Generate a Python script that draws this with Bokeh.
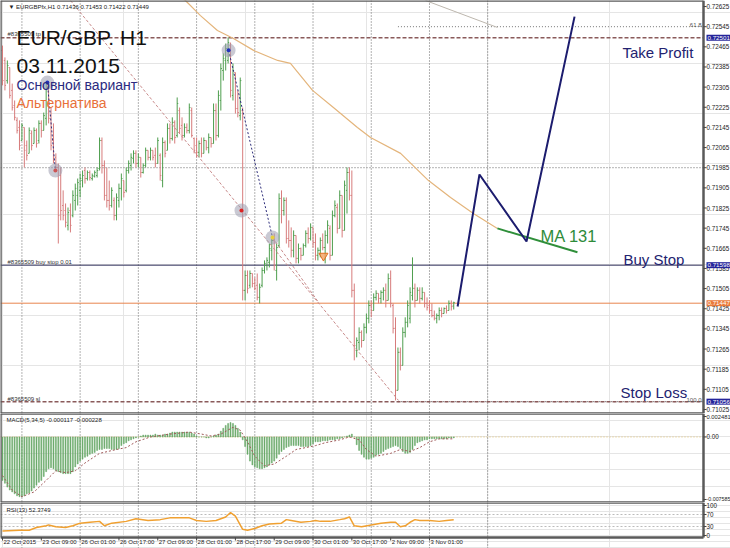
import numpy as np
from bokeh.plotting import figure
from bokeh.models import Range1d, ColumnDataSource, Span, Label
from bokeh.layouts import column
from bokeh.embed import file_html
from bokeh.resources import INLINE

FONT = "Liberation Sans"

# ---------------- data (EUR/GBP H1, bar 0 = 22 Oct 2015 17:00) ----------------
opens = [0.72451,0.72411,0.72331,0.72383,0.72292,0.72232,0.72173,0.72145,0.72093,0.72145,
0.72073,0.72042,0.72121,0.72081,0.72133,0.72093,0.72161,0.72133,0.72181,0.72300,
0.72192,0.72093,0.72026,0.71986,0.71954,0.71835,0.71815,0.71756,0.71815,0.71795,
0.71855,0.71875,0.71895,0.71934,0.71974,0.71942,0.71966,0.71942,0.71950,0.71954,
0.71982,0.72093,0.71994,0.71875,0.71855,0.71835,0.71855,0.71795,0.71855,0.71903,
0.71934,0.71895,0.71974,0.71994,0.72022,0.72042,0.72002,0.72026,0.71966,0.71994,
0.72054,0.72026,0.72054,0.72034,0.72002,0.72034,0.71934,0.72085,0.72054,0.72141,
0.72101,0.72165,0.72113,0.72212,0.72153,0.72113,0.72145,0.72133,0.72212,0.72101,
0.72073,0.72046,0.72081,0.72042,0.72093,0.72065,0.72105,0.72081,0.72212,0.72113,
0.72252,0.72371,0.72411,0.72411,0.72470,0.72272,0.72363,0.72220,0.72192,0.72212,
0.71498,0.71557,0.71518,0.71565,0.71525,0.71518,0.71470,0.71518,0.71577,0.71597,
0.71609,0.71657,0.71696,0.71577,0.71676,0.71863,0.71815,0.71855,0.71704,0.71696,
0.71657,0.71716,0.71625,0.71664,0.71637,0.71676,0.71724,0.71704,0.71748,0.71688,
0.71637,0.71657,0.71696,0.71668,0.71716,0.71744,0.71637,0.71795,0.71827,0.71744,
0.71875,0.71736,0.71895,0.71966,0.71875,0.71498,0.71260,0.71291,0.71331,0.71299,
0.71351,0.71387,0.71438,0.71418,0.71470,0.71486,0.71466,0.71490,0.71498,0.71458,
0.71545,0.71438,0.71347,0.71101,0.71252,0.71200,0.71331,0.71371,0.71387,0.71478,
0.71506,0.71458,0.71498,0.71466,0.71490,0.71446,0.71438,0.71418,0.71398,0.71387,
0.71398,0.71418,0.71406,0.71426,0.71418,0.71446,0.71436]
highs = [0.72470,0.72423,0.72411,0.72383,0.72319,0.72252,0.72185,0.72173,0.72161,0.72145,
0.72093,0.72145,0.72133,0.72145,0.72141,0.72173,0.72173,0.72204,0.72319,0.72312,
0.72224,0.72161,0.72042,0.72002,0.71986,0.71895,0.71843,0.71827,0.71843,0.71895,
0.71922,0.71942,0.71962,0.71974,0.71986,0.71974,0.71974,0.71962,0.71974,0.71986,
0.72105,0.72105,0.72014,0.71986,0.71934,0.71907,0.71867,0.71883,0.71922,0.71962,
0.71934,0.71986,0.72014,0.72042,0.72054,0.72054,0.72042,0.72026,0.72002,0.72065,
0.72054,0.72065,0.72054,0.72065,0.72105,0.72042,0.72105,0.72093,0.72161,0.72161,
0.72185,0.72173,0.72264,0.72224,0.72185,0.72161,0.72161,0.72240,0.72224,0.72105,
0.72105,0.72093,0.72105,0.72105,0.72093,0.72121,0.72105,0.72240,0.72240,0.72292,
0.72399,0.72439,0.72478,0.72502,0.72482,0.72399,0.72363,0.72292,0.72343,0.72224,
0.71577,0.71577,0.71577,0.71565,0.71549,0.71565,0.71525,0.71589,0.71617,0.71629,
0.71684,0.71708,0.71724,0.71684,0.71883,0.71895,0.71867,0.71867,0.71776,0.71748,
0.71736,0.71716,0.71684,0.71668,0.71684,0.71736,0.71748,0.71764,0.71748,0.71724,
0.71668,0.71708,0.71724,0.71736,0.71776,0.71756,0.71815,0.71855,0.71843,0.71895,
0.71875,0.71934,0.71986,0.71986,0.71974,0.71525,0.71311,0.71351,0.71339,0.71367,
0.71406,0.71458,0.71458,0.71486,0.71498,0.71486,0.71498,0.71510,0.71525,0.71565,
0.71577,0.71446,0.71391,0.71271,0.71271,0.71351,0.71391,0.71458,0.71510,0.71629,
0.71525,0.71510,0.71510,0.71510,0.71490,0.71470,0.71458,0.71446,0.71418,0.71406,
0.71430,0.71430,0.71430,0.71438,0.71458,0.71458,0.71453]
lows = [0.72312,0.72292,0.72319,0.72260,0.72212,0.72173,0.72121,0.72054,0.72093,0.71986,
0.72014,0.72042,0.72054,0.72081,0.72065,0.72081,0.72105,0.72133,0.72153,0.72161,
0.72054,0.72002,0.71974,0.71684,0.71776,0.71776,0.71748,0.71736,0.71728,0.71788,
0.71815,0.71835,0.71867,0.71907,0.71922,0.71934,0.71934,0.71934,0.71946,0.71946,
0.71974,0.71962,0.71855,0.71827,0.71815,0.71827,0.71776,0.71776,0.71827,0.71855,
0.71867,0.71887,0.71962,0.71974,0.72002,0.71986,0.71986,0.71946,0.71962,0.71986,
0.72014,0.72014,0.72014,0.71986,0.72002,0.71934,0.71907,0.72026,0.72054,0.72081,
0.72093,0.72081,0.72105,0.72121,0.72093,0.72105,0.72121,0.72121,0.72105,0.72042,
0.72026,0.72026,0.72026,0.72042,0.72054,0.72042,0.72065,0.72081,0.72093,0.72105,
0.72212,0.72331,0.72371,0.72399,0.72264,0.72252,0.72200,0.72185,0.72173,0.71458,
0.71458,0.71486,0.71506,0.71510,0.71498,0.71458,0.71446,0.71510,0.71565,0.71577,
0.71589,0.71617,0.71577,0.71537,0.71668,0.71764,0.71795,0.71684,0.71668,0.71629,
0.71629,0.71605,0.71605,0.71617,0.71637,0.71668,0.71684,0.71696,0.71668,0.71617,
0.71617,0.71629,0.71657,0.71605,0.71684,0.71617,0.71637,0.71788,0.71724,0.71744,
0.71708,0.71736,0.71803,0.71855,0.71470,0.71220,0.71232,0.71260,0.71271,0.71299,
0.71327,0.71367,0.71391,0.71418,0.71458,0.71446,0.71446,0.71458,0.71430,0.71458,
0.71430,0.71327,0.71061,0.71101,0.71180,0.71200,0.71311,0.71351,0.71367,0.71458,
0.71430,0.71458,0.71446,0.71458,0.71430,0.71418,0.71406,0.71391,0.71379,0.71367,
0.71379,0.71391,0.71406,0.71406,0.71418,0.71418,0.71422]
closes = [0.72331,0.72312,0.72391,0.72272,0.72224,0.72185,0.72133,0.72073,0.72153,0.72054,
0.72034,0.72133,0.72073,0.72133,0.72081,0.72161,0.72133,0.72192,0.72300,0.72181,
0.72073,0.72014,0.71986,0.71795,0.71815,0.71795,0.71768,0.71807,0.71756,0.71875,
0.71903,0.71926,0.71942,0.71954,0.71942,0.71966,0.71946,0.71954,0.71966,0.71974,
0.72093,0.71994,0.71875,0.71855,0.71835,0.71895,0.71795,0.71867,0.71903,0.71942,
0.71887,0.71974,0.72002,0.72026,0.72042,0.72002,0.72026,0.71966,0.71994,0.72054,
0.72026,0.72054,0.72026,0.72002,0.72093,0.71954,0.72085,0.72042,0.72141,0.72101,
0.72165,0.72105,0.72240,0.72141,0.72113,0.72145,0.72133,0.72224,0.72113,0.72054,
0.72046,0.72081,0.72042,0.72093,0.72065,0.72105,0.72081,0.72212,0.72113,0.72272,
0.72379,0.72419,0.72458,0.72482,0.72292,0.72371,0.72220,0.72204,0.72331,0.71498,
0.71557,0.71506,0.71565,0.71525,0.71506,0.71470,0.71510,0.71577,0.71605,0.71617,
0.71664,0.71696,0.71597,0.71668,0.71863,0.71815,0.71855,0.71704,0.71696,0.71657,
0.71716,0.71625,0.71664,0.71637,0.71676,0.71724,0.71704,0.71748,0.71688,0.71637,
0.71657,0.71696,0.71668,0.71716,0.71756,0.71637,0.71795,0.71835,0.71744,0.71875,
0.71736,0.71915,0.71966,0.71875,0.71498,0.71279,0.71299,0.71331,0.71299,0.71351,
0.71387,0.71438,0.71418,0.71470,0.71486,0.71466,0.71490,0.71498,0.71458,0.71545,
0.71446,0.71347,0.71101,0.71252,0.71200,0.71331,0.71371,0.71438,0.71490,0.71506,
0.71458,0.71498,0.71466,0.71490,0.71446,0.71430,0.71418,0.71398,0.71387,0.71398,
0.71418,0.71406,0.71426,0.71418,0.71446,0.71434,0.71449]

macd_hist = [-0.00527,-0.00562,-0.00608,-0.00644,-0.00667,-0.00690,-0.00714,-0.00725,-0.00725,-0.00714,
-0.00690,-0.00679,-0.00655,-0.00620,-0.00585,-0.00550,-0.00527,-0.00480,-0.00421,-0.00386,
-0.00374,-0.00386,-0.00410,-0.00421,-0.00433,-0.00445,-0.00445,-0.00445,-0.00445,-0.00421,
-0.00363,-0.00328,-0.00293,-0.00269,-0.00246,-0.00234,-0.00211,-0.00199,-0.00187,-0.00164,
-0.00152,-0.00152,-0.00140,-0.00140,-0.00140,-0.00152,-0.00152,-0.00152,-0.00140,-0.00105,
-0.00082,-0.00070,-0.00047,-0.00035,-0.00023,-0.00012,0.0,0.00012,0.00023,0.00023,
0.00023,0.00023,0.00023,0.00035,0.00023,0.00023,0.00023,0.00035,0.00035,0.00047,
0.00059,0.00059,0.00059,0.00059,0.00059,0.00059,0.00059,0.00059,0.00047,0.00035,
0.00012,0.0,0.0,0.0,-0.00012,-0.00012,0.0,0.00012,0.00023,0.00035,
0.00070,0.00105,0.00140,0.00164,0.00176,0.00164,0.00140,0.00105,0.00059,-0.00035,
-0.00117,-0.00211,-0.00293,-0.00339,-0.00363,-0.00374,-0.00386,-0.00386,-0.00374,-0.00363,
-0.00339,-0.00316,-0.00293,-0.00257,-0.00211,-0.00176,-0.00152,-0.00129,-0.00117,-0.00105,
-0.00105,-0.00105,-0.00105,-0.00117,-0.00117,-0.00117,-0.00117,-0.00105,-0.00082,-0.00059,
-0.00059,-0.00059,-0.00047,-0.00047,-0.00047,-0.00035,-0.00035,-0.00035,-0.00023,-0.00023,
-0.00012,0.0,0.00012,0.00023,0.00035,0.0,-0.00094,-0.00164,-0.00211,-0.00246,
-0.00269,-0.00269,-0.00257,-0.00246,-0.00222,-0.00211,-0.00199,-0.00176,-0.00152,-0.00140,
-0.00129,-0.00117,-0.00105,-0.00117,-0.00140,-0.00176,-0.00199,-0.00199,-0.00187,-0.00152,
-0.00105,-0.00070,-0.00059,-0.00047,-0.00035,-0.00035,-0.00023,-0.00023,-0.00023,-0.00023,
-0.00023,-0.00023,-0.00023,-0.00023,-0.00012,-0.00012,-0.000117]

sig_bars = [0,4,8,13,18,22,26,30,34,40,47,51,55,61,69,77,82,86,90,95,
            98,101,104,108,112,117,121,125,129,133,139,143,147,150,154,160,164,168,172,176,180,186]
sig_vals = [-0.00468,-0.00644,-0.00725,-0.00667,-0.00527,-0.00410,-0.00433,-0.00410,-0.00316,-0.00199,
            -0.00152,-0.00129,-0.00059,0.0,0.00035,0.00059,0.00035,0.00012,0.00035,0.00117,
            0.00082,-0.00059,-0.00234,-0.00351,-0.00328,-0.00234,-0.00152,-0.00129,-0.00105,-0.00070,
            -0.00035,0.0,-0.00035,-0.00152,-0.00234,-0.00199,-0.00152,-0.00176,-0.00129,-0.00059,
            -0.00023,-0.000228]

rsi_bars = [0,7,11,14,18,19,22,26,29,32,36,40,42,45,51,55,60,65,69,73,
            77,80,84,88,92,94,96,99,101,104,107,110,115,117,119,123,127,129,131,135,
            139,141,143,145,148,152,156,160,162,164,166,168,170,172,176,180,183,186]
rsi_vals = [14.7,17.6,17.6,26.5,32.4,35.3,29.4,26.5,32.4,41.2,44.1,47.1,32.4,41.2,47.1,55.9,50,52.9,58.8,58.8,
            58.8,50,47.1,50,61.8,76.5,64.7,20.6,17.6,23.5,32.4,38.2,41.2,52.9,50,44.1,47.1,50,47.1,47.1,
            52.9,55.9,61.8,32.4,29.4,35.3,41.2,44.1,44.1,29.4,32.4,44.1,52.9,50,50,47.1,50,52.37]

ma_bars = [69.2,75.4,81.6,88.6,95.2,103.5,113.4,118.7,127.8,136.4,146.3,151.7,164.1,175.6,184.7,194.1,204]
ma_vals = [0.72681,0.72649,0.72589,0.72530,0.72498,0.72451,0.72411,0.72399,0.72292,0.72224,
           0.72145,0.72105,0.72042,0.71934,0.71867,0.71803,0.71744]
ma_ext_bars = [204, 237]
ma_ext_vals = [0.71744, 0.71649]
fc_bars = [187.6, 196.6, 216, 235.8]
fc_vals = [0.71434, 0.71958, 0.71692, 0.72585]
wave1_bars = [18.5, 21.8]
wave1_vals = [0.72323, 0.71974]
wave2_bars = [93.2, 111.3]
wave2_vals = [0.72451, 0.71708]
alt_bars = [111.3, 130.3]
alt_vals = [0.71708, 0.71450]
trend_bars = [28.0, 163.2]
trend_vals = [0.72649, 0.71061]
fibbase_bars = [174.4, 204]
fibbase_vals = [0.72649, 0.72542]
mark_bars = [18.5, 21.8, 93.2, 98.5, 111.3]
mark_vals = [0.72323, 0.71974, 0.72451, 0.71815, 0.71708]
mark_cols = ["#2233bb", "#cc5555", "#2233bb", "#dd2222", "#e8d040"]
arrow_bar = [132.3]
arrow_val = [0.71635]

tp_level, bs_level, bid_level, sl_level = 0.72501, 0.71598, 0.71447, 0.71056
fib_levels = [0.72545, 0.71056]
fib_names = ["61.8", "100.0"]
fib_start = 163
grid_price = 0.71985
grid_bars = [8, 32, 56, 80, 104, 128, 152, 176, 200]
price_ticks = [round(0.71025 + 0.0008 * k, 5) for k in range(21)]
macd_ticks = [0.002481, 0.0, -0.007585]
macd_tick_text = ["0.002481", "0.00", "-0.007585"]
rsi_ticks = [100, 70, 30, 0]
time_bars = [0, 16, 32, 48, 64, 80, 96, 112, 128, 144, 160, 176]
time_texts = ["22 Oct 2015", "23 Oct 09:00", "26 Oct 01:00", "26 Oct 17:00", "27 Oct 09:00",
              "28 Oct 01:00", "28 Oct 17:00", "29 Oct 09:00", "30 Oct 01:00", "30 Oct 17:00",
              "2 Nov 09:00", "3 Nov 01:00"]

# ---------------- layout ----------------
FW = 730
PXB = 2.426                  # pixels per hourly bar
X0 = -2.0 / PXB
X1 = X0 + FW / PXB
EDGE = (703 - 2.0) / PXB     # right edge of the chart area (price scale lies beyond)
xr = Range1d(X0, X1)
BORDER = "#5a5a5a"


def make_fig(fh, ylo, yhi):
    p = figure(frame_width=FW, frame_height=fh, x_range=xr, y_range=Range1d(ylo, yhi),
               output_backend="svg", toolbar_location=None,
               x_axis_location=None, y_axis_location=None, min_border=0,
               background_fill_color="white", border_fill_color="white",
               outline_line_color=None)
    for b in grid_bars:
        p.add_layout(Span(location=b, dimension="height", line_color="#666666",
                          line_dash="1 2", line_width=1, level="underlay"))
    return p


def border(p, ylo, yhi):
    p.segment(x0=[X0, X0, X0, EDGE], y0=[yhi, ylo, ylo, ylo],
              x1=[EDGE, EDGE, X0, EDGE], y1=[yhi, ylo, yhi, yhi],
              line_color=BORDER, line_width=2.5)


def hline(p, y, color, dash="solid", width=1.0, x0=X0):
    p.segment(x0=[x0], y0=[y], x1=[EDGE], y1=[y], line_color=color,
              line_dash=dash, line_width=width)


def label(p, x, y, text, size="6.4px", color="#222222", align="left", baseline="middle",
          xu="screen", yu="screen", xoff=0, yoff=0, bg=None):
    kw = {}
    if bg is not None:
        kw = dict(background_fill_color=bg, background_fill_alpha=1.0, padding=1)
    p.add_layout(Label(x=x, y=y, x_units=xu, y_units=yu, text=text, text_font=FONT,
                       text_font_size=size, text_color=color, text_align=align,
                       text_baseline=baseline, x_offset=xoff, y_offset=yoff, **kw))


def scale_labels(p, ticks, texts, sizes=None):
    p.segment(x0=[EDGE] * len(ticks), y0=ticks, x1=[EDGE + 3 / PXB] * len(ticks), y1=ticks,
              line_color="#444444", line_width=1)
    if sizes is None:
        sizes = ["6.3px"] * len(ticks)
    for t, s, fs in zip(ticks, texts, sizes):
        label(p, EDGE, t, s, size=fs, yu="data", xu="data", xoff=3)


# ---- main price pane (reference rows 0..413) ----
FH = 413
PLO, PHI = 0.71009, 0.72649
p = make_fig(FH, PLO, PHI)


def sy(ry):
    return FH - ry


hline(p, grid_price, "#666666", "1 2")
for lv in fib_levels:
    hline(p, lv, "#777777", "1 2", x0=fib_start)
hline(p, tp_level, "#8a5a5a", "4 2", 1.5)
hline(p, sl_level, "#8a5a5a", "4 2", 1.5)
hline(p, bs_level, "#33335e")
hline(p, bid_level, "#e8844e")

p.line(ma_bars, ma_vals, line_color="#e4b57c", line_width=1.2)
p.line(fibbase_bars, fibbase_vals, line_color="#bdb7ae", line_width=1)

n = min(len(opens), len(highs), len(lows), len(closes))
xs = list(range(n))
cols = ["#4e9e4e" if closes[i] >= opens[i] else "#d77c7c" for i in range(n)]
src = ColumnDataSource(dict(x=xs, xl=[i - 0.45 for i in xs], xr=[i + 0.45 for i in xs],
                            o=opens[:n], h=highs[:n], l=lows[:n], c=closes[:n], col=cols))
p.segment(x0="x", y0="l", x1="x", y1="h", line_color="col", line_width=1, source=src)
p.segment(x0="xl", y0="o", x1="x", y1="o", line_color="col", line_width=1, source=src)
p.segment(x0="x", y0="c", x1="xr", y1="c", line_color="col", line_width=1, source=src)

p.line(trend_bars, trend_vals, line_color="#c98c8c", line_dash="3 2", line_width=1)
p.line(alt_bars, alt_vals, line_color="#c98c8c", line_dash="3 2", line_width=1)
p.line(wave1_bars, wave1_vals, line_color="#2d2d7a", line_dash="2 2", line_width=1)
p.line(wave2_bars, wave2_vals, line_color="#2d2d7a", line_dash="2 2", line_width=1)
p.scatter(mark_bars, mark_vals, size=14, fill_color="#9c9cae", fill_alpha=0.55, line_color=None)
p.scatter(mark_bars, mark_vals, size=4, fill_color=mark_cols, line_color=None)
p.scatter(arrow_bar, arrow_val, marker="inverted_triangle", size=9, fill_color="#f4a060",
          line_color="#e07020", fill_alpha=0.8)

p.line(ma_ext_bars, ma_ext_vals, line_color="#2f8f3a", line_width=2)
p.line(fc_bars, fc_vals, line_color="#1c1c6e", line_width=2)
border(p, PLO, PHI)

label(p, 7, sy(33), "#8365509 tp", size="6px", color="#333333")
label(p, 16, sy(36.7), "EUR/GBP. H1", size="21px", color="#111111", baseline="alphabetic")
label(p, 16, sy(65), "03.11.2015", size="21px", color="#111111", baseline="alphabetic")
label(p, 16, sy(84.5), "Основной вариант", size="14px", color="#2a2a80", baseline="alphabetic")
label(p, 16, sy(102), "Альтернатива", size="14px", color="#e8703a", baseline="alphabetic")
label(p, 622, sy(52), "Take Profit", size="15px", color="#232370", baseline="alphabetic")
label(p, 623, sy(259), "Buy Stop", size="15px", color="#232370", baseline="alphabetic")
label(p, 620, sy(392), "Stop Loss", size="15px", color="#232370", baseline="alphabetic")
label(p, 540, sy(235), "MA 131", size="16.5px", color="#2e8b3a", baseline="alphabetic")
label(p, 8, sy(6), "▼ EURGBPfx,H1  0.71436 0.71453 0.71422 0.71449", size="6px")
label(p, 7, sy(261), "#8365509 buy stop 0.01", size="6px", color="#333333")
label(p, 7, sy(398), "#8365509 sl", size="6px", color="#333333")
for lv, nm in zip(fib_levels, fib_names):
    label(p, EDGE, lv, nm, size="6px", color="#555555", align="right", baseline="bottom",
          xu="data", yu="data", xoff=-2)

scale_labels(p, price_ticks, [f"{t:.5f}" for t in price_ticks])
for lv, bg in [(tp_level, "#24249a"), (bs_level, "#24249a"), (bid_level, "#ea7a3a"), (sl_level, "#24249a")]:
    label(p, EDGE, lv, f"{lv:.5f}", size="6.2px", color="white", xu="data", yu="data",
          xoff=3, bg=bg)

# ---- MACD pane (reference rows 413..502) ----
MH = 89
MLO, MHI = -0.007949, 0.002845
m = make_fig(MH, MLO, MHI)
hline(m, 0.0, "#e0c070", "1 2")
nm_ = len(macd_hist)
m.vbar(x=list(range(nm_)), top=macd_hist, bottom=0, width=0.4,
       fill_color="#68a868", line_color="#68a868", line_width=0.5)
m.line(sig_bars, sig_vals, line_color="#a05a5a", line_dash="2 2", line_width=1)
border(m, MLO, MHI)
scale_labels(m, macd_ticks, macd_tick_text, sizes=["5.8px", "6.3px", "5.3px"])
label(m, 6, MH - 6.5, "MACD(5,34,5) -0.000117 -0.000228", size="6px")

# ---- RSI pane with time scale (reference rows 502..548) ----
RH = 46
RLO, RHI = -43.3, 110.0
RBOT = -6.7
r = make_fig(RH, RLO, RHI)
for lv in [30, 70]:
    hline(r, lv, "#bbbbbb", "2 2")
r.line(rsi_bars, rsi_vals, line_color="#f0a030", line_width=1.5)
border(r, RBOT, RHI)
scale_labels(r, rsi_ticks, [str(t) for t in rsi_ticks])
label(r, 6, RH - 7.5, "RSI(13) 52.3749", size="6px")
r.segment(x0=time_bars, y0=[RBOT] * len(time_bars), x1=time_bars,
          y1=[RBOT - 3 / 0.3] * len(time_bars), line_color="#444444", line_width=1)
for b, t in zip(time_bars, time_texts):
    label(r, b, RBOT, t, size="6px", align="left", baseline="top", xu="data", yu="data",
          xoff=1, yoff=-1.5)

lay = column(p, m, r, spacing=0)
open("out.html", "w").write(file_html(lay, INLINE))
